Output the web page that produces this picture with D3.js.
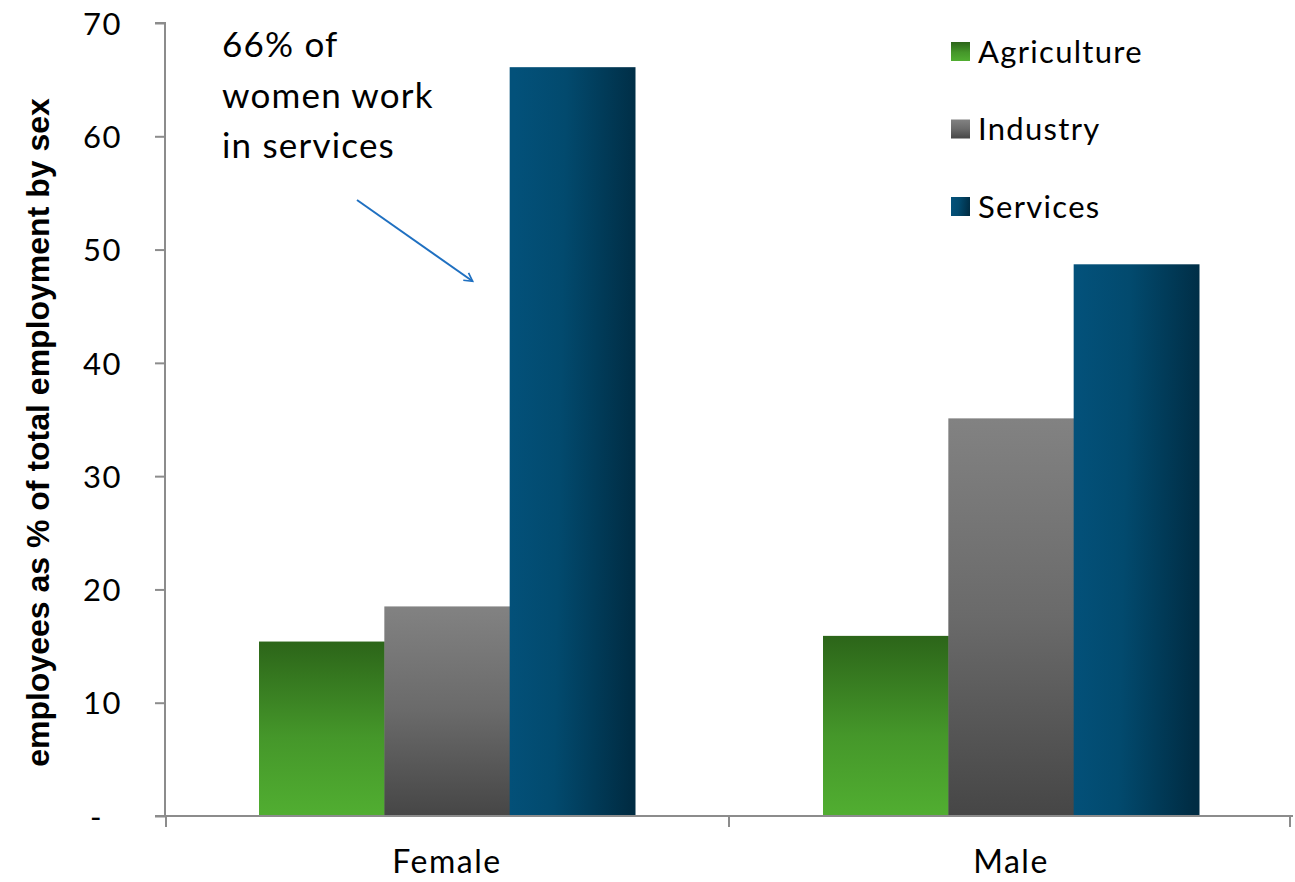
<!DOCTYPE html>
<html>
<head>
<meta charset="utf-8">
<script src="https://cdn.jsdelivr.net/npm/d3@7"></script>
<style>
  html, body { margin: 0; padding: 0; background: #ffffff; }
  svg { display: block; }
  text { font-family: "Lato", "Noto Sans", sans-serif; fill: #000; }
</style>
</head>
<body>
<svg id="chart" width="1295" height="882"></svg>
<script>
// Employment by sector, as % of total employment by sex
const categories = ["Female", "Male"];
const sectors = ["Agriculture", "Industry", "Services"];
const agriculture = [15.4, 15.9];
const industry = [18.5, 35.1];
const services = [66.1, 48.7];
const yTicks = [0, 10, 20, 30, 40, 50, 60, 70];
const yTickLabels = ["-", "10", "20", "30", "40", "50", "60", "70"];
const yTitle = "employees as % of total employment by sex";
const noteLines = ["66% of", "women work", "in services"];

const seriesValues = [agriculture, industry, services];

const svg = d3.select("#chart");
const margin = { left: 165, right: 1293, top: 23, bottom: 816 };

const x0 = d3.scaleBand().domain(categories).range([margin.left, margin.right]).paddingInner(0).paddingOuter(0);
const x1 = d3.scaleBand().domain(sectors).range([0, x0.bandwidth()]).paddingInner(0).paddingOuter(0.75);
const y = d3.scaleLinear().domain([0, 70]).range([margin.bottom, margin.top]);

// Gradient fills per sector
const defs = svg.append("defs");
const gAgr = defs.append("linearGradient").attr("id", "grad-Agriculture")
  .attr("x1", 0).attr("y1", 0).attr("x2", 0).attr("y2", 1);
gAgr.append("stop").attr("offset", "0%").attr("stop-color", "#2c6519");
gAgr.append("stop").attr("offset", "55%").attr("stop-color", "#45972a");
gAgr.append("stop").attr("offset", "100%").attr("stop-color", "#51ae31");
const gInd = defs.append("linearGradient").attr("id", "grad-Industry")
  .attr("x1", 0).attr("y1", 0).attr("x2", 0).attr("y2", 1);
gInd.append("stop").attr("offset", "0%").attr("stop-color", "#828282");
gInd.append("stop").attr("offset", "50%").attr("stop-color", "#6a6a6a");
gInd.append("stop").attr("offset", "100%").attr("stop-color", "#464646");
const gSer = defs.append("linearGradient").attr("id", "grad-Services")
  .attr("x1", 0).attr("y1", 0.45).attr("x2", 1).attr("y2", 0.55);
gSer.append("stop").attr("offset", "0%").attr("stop-color", "#03517a");
gSer.append("stop").attr("offset", "40%").attr("stop-color", "#024a6e");
gSer.append("stop").attr("offset", "100%").attr("stop-color", "#002c43");

// Bars
const groups = svg.append("g").selectAll("g")
  .data(categories)
  .join("g")
  .attr("transform", d => `translate(${x0(d)},0)`);

groups.selectAll("rect")
  .data((c, ci) => sectors.map((s, si) => ({ sector: s, value: seriesValues[si][ci] })))
  .join("rect")
  .attr("x", d => x1(d.sector))
  .attr("width", x1.bandwidth() + 0.5)
  .attr("y", d => y(d.value))
  .attr("height", d => y(0) - y(d.value))
  .attr("fill", d => `url(#grad-${d.sector})`);

// Y axis
const yAxis = d3.axisLeft(y)
  .tickValues(yTicks)
  .tickFormat((d, i) => yTickLabels[i])
  .tickSize(10)
  .tickPadding(33);
const yg = svg.append("g").attr("transform", `translate(${margin.left},0)`).call(yAxis);
yg.select(".domain").attr("stroke", "#8c8c8c").attr("stroke-width", 2).attr("d", `M-10,${margin.top}H0V${margin.bottom}`);
yg.selectAll(".tick line").attr("stroke", "#8c8c8c").attr("stroke-width", 2);
yg.selectAll(".tick text").style("font-size", "31px").style("letter-spacing", "1.5px")
  .attr("fill", "#000").attr("dy", "0.36em")
  .attr("dx", d => d === 0 ? -19 : 0);

// X axis
const xAxis = d3.axisBottom(x0).tickSize(0).tickPadding(34);
const xg = svg.append("g").attr("transform", `translate(0,${margin.bottom})`).call(xAxis);
xg.select(".domain").attr("stroke", "#8c8c8c").attr("stroke-width", 2).attr("d", `M${margin.left - 10},0H${margin.right}`);
xg.selectAll(".tick text").style("font-size", "32px").style("letter-spacing", "1.5px")
  .attr("fill", "#000").attr("dy", "0.71em");
// Category separators below the axis line
const sepX = [margin.left + 1, ...categories.slice(1).map(c => x0(c)), margin.right - 3];
xg.selectAll("line.sep").data(sepX).join("line").attr("class", "sep")
  .attr("x1", d => d).attr("x2", d => d).attr("y1", 0).attr("y2", 11)
  .attr("stroke", "#8c8c8c").attr("stroke-width", 2);

// Y axis title
svg.append("text")
  .attr("transform", `translate(49,${(margin.top + margin.bottom) / 2 + 13}) rotate(-90)`)
  .attr("text-anchor", "middle")
  .style("font-family", "'Liberation Sans', sans-serif")
  .style("font-weight", "bold")
  .style("font-size", "32px")
  .text(yTitle);

// Legend
const legend = svg.append("g").attr("transform", "translate(951,42)");
const li = legend.selectAll("g").data(sectors).join("g")
  .attr("transform", (d, i) => `translate(0,${i * 77.5})`);
li.append("rect").attr("width", 19).attr("height", 19).attr("fill", d => `url(#grad-${d})`);
li.append("text").attr("x", 27).attr("y", 9.5).attr("dy", "0.36em")
  .style("font-size", "31px").style("letter-spacing", "1.3px").text(d => d);

// Annotation
const note = svg.append("text").attr("x", 222).attr("y", 57)
  .style("font-size", "35px").style("letter-spacing", "1.2px");
note.selectAll("tspan").data(noteLines).join("tspan")
  .attr("x", 222).attr("dy", (d, i) => i === 0 ? 0 : 50.5).text(d => d);

defs.append("marker").attr("id", "arrowhead")
  .attr("viewBox", "0 0 12 12").attr("refX", 10).attr("refY", 6)
  .attr("markerWidth", 11).attr("markerHeight", 11).attr("markerUnits", "userSpaceOnUse")
  .attr("orient", "auto")
  .append("path").attr("d", "M1,1 L10,6 L1,11").attr("fill", "none")
  .attr("stroke", "#1f70c1").attr("stroke-width", 1.8);

// Arrow points at the female services bar
const arrowEnd = [x0("Female") + x1("Services") - 37, y(47.2)];
svg.append("line")
  .attr("x1", 357).attr("y1", 200)
  .attr("x2", arrowEnd[0]).attr("y2", arrowEnd[1])
  .attr("stroke", "#1f70c1").attr("stroke-width", 2)
  .attr("marker-end", "url(#arrowhead)");
</script>
</body>
</html>
